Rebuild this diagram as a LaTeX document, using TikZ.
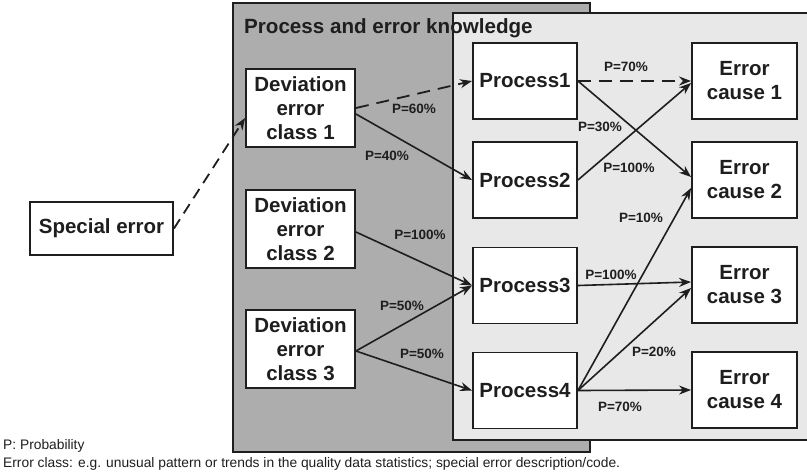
\documentclass[tikz,border=0pt]{standalone}
\usepackage{fontspec}
\setmainfont{Liberation Sans}
\usetikzlibrary{arrows.meta}

\definecolor{ink}{HTML}{1E1E1E}
\definecolor{darkpanel}{HTML}{ADADAD}
\definecolor{lightpanel}{HTML}{E8E8E8}

\begin{document}
\begin{tikzpicture}[x=1pt,y=-1pt,
  box/.style={draw=ink, line width=1.9pt, fill=white, text=ink, align=center,
    inner sep=0pt, font=\bfseries\fontsize{20.5}{24}\selectfont},
  devbox/.style={box, minimum width=109pt, minimum height=78pt},
  procbox/.style={box, minimum width=104pt, minimum height=76pt},
  causebox/.style={box, minimum width=105pt, minimum height=76pt},
  conn/.style={draw=ink, line width=1.6pt, -{Stealth[length=12pt,width=9pt]}},
  dconn/.style={conn, line width=1.8pt, dash pattern=on 13pt off 8pt},
  plabel/.style={text=ink, inner sep=0pt, font=\bfseries\fontsize{13.5}{16}\selectfont},
  note/.style={text=ink, inner sep=0pt, anchor=base west, font=\fontsize{13.8}{16}\selectfont}
]
\useasboundingbox (0,0) rectangle (807,475);

% knowledge panels
\fill[darkpanel] (233,3) rectangle (590,452);
\draw[ink, line width=2pt] (233,3) rectangle (590,452);
\fill[lightpanel] (453,13) rectangle (809,440);
\draw[ink, line width=2pt] (809,13) -- (453,13) -- (453,440) -- (809,440);

\node[anchor=base west, text=ink, inner sep=0pt,
  font=\bfseries\fontsize{20.6}{24}\selectfont] (title) at (244,33) {Process and error knowledge};

% nodes
\node[box, minimum width=143pt, minimum height=53pt] (special) at (101.5,228.5) {Special error};

\node[devbox] (dec1) at (300.5,108) {Deviation\\error\\class 1};
\node[devbox] (dec2) at (300.5,229) {Deviation\\error\\class 2};
\node[devbox] (dec3) at (300.5,349) {Deviation\\error\\class 3};

\node[procbox] (p1) at (525,81) {Process1};
\node[procbox] (p2) at (525,180) {Process2};
\node[procbox] (p3) at (525,285.5) {Process3};
\node[procbox] (p4) at (525,390.5) {Process4};

\node[causebox] (ec1) at (744.5,81) {Error\\cause 1};
\node[causebox] (ec2) at (744.5,180) {Error\\cause 2};
\node[causebox] (ec3) at (744.5,285) {Error\\cause 3};
\node[causebox] (ec4) at (744.5,390) {Error\\cause 4};

% connectors
\draw[dconn, dash pattern=on 11pt off 7pt] (special.east) -- ([yshift=-10pt]dec1.west);
\draw[dconn] (dec1.east) -- (p1.west);
\draw[conn] ([yshift=-6pt]dec1.east) -- (p2.west);
\draw[conn] ([yshift=-3pt]dec2.east) -- (p3.west);
\draw[conn] ([yshift=-2pt]dec3.east) -- (p3.west);
\draw[conn] ([yshift=-2pt]dec3.east) -- (p4.west);

\draw[dconn] (p1.east) -- (ec1.west);
\draw[conn] (p1.east) -- ([yshift=3pt]ec2.west);
\draw[conn] (p2.east) -- ([yshift=-2pt]ec1.west);
\draw[conn] (p3.east) -- ([yshift=3pt]ec3.west);
\draw[conn] (p4.east) -- ([yshift=-8pt]ec2.west);
\draw[conn] (p4.east) -- ([yshift=-3pt]ec3.west);
\draw[conn] (p4.east) -- (ec4.west);

% probabilities
\node[plabel] (l60) at (414,109) {P=60\%};
\node[plabel] (l40) at (387,156) {P=40\%};
\node[plabel] (l100a) at (420,235) {P=100\%};
\node[plabel] (l50a) at (402,306) {P=50\%};
\node[plabel] (l50b) at (422,354) {P=50\%};
\node[plabel] (l70a) at (626,67) {P=70\%};
\node[plabel] (l30) at (600,127) {P=30\%};
\node[plabel] (l100b) at (629,168) {P=100\%};
\node[plabel] (l10) at (641,218) {P=10\%};
\node[plabel] (l100c) at (611,275) {P=100\%};
\node[plabel] (l20) at (654,352) {P=20\%};
\node[plabel] (l70b) at (620,407) {P=70\%};

% legend
\node[note] (legP) at (3,449) {P: Probability};
\node[note] (legE) at (3,467) {Error class: e.g. unusual pattern or trends in the quality data statistics; special error description/code.};
\end{tikzpicture}
\end{document}
